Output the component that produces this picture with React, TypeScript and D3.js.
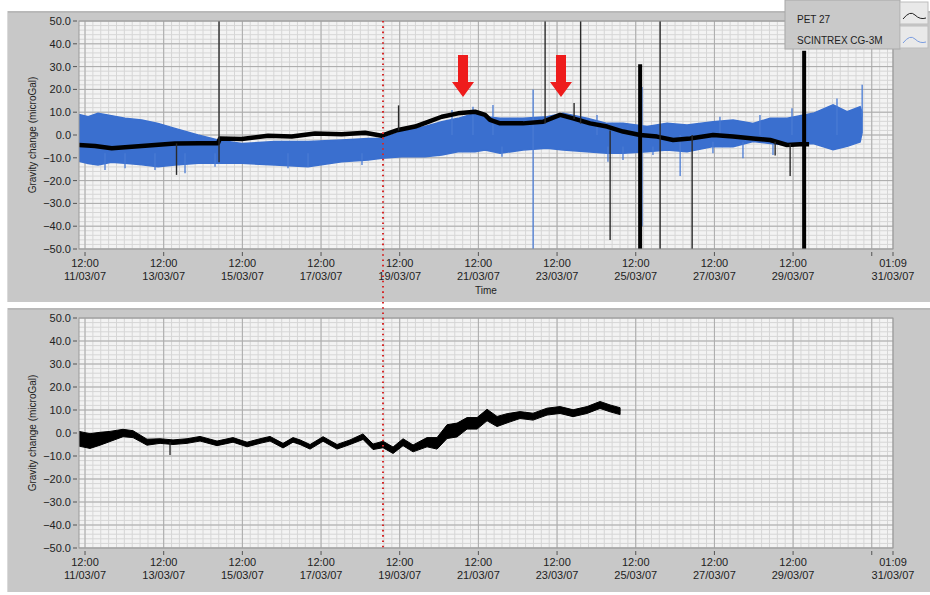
import React from "react";
import * as d3 from "d3";

// ---------- data (days since 11/03/2007 00:00) ----------
const BASE = Date.UTC(2007, 2, 11);
const toDate = (d: number) => new Date(BASE + d * 86400000);

const yTickValues = [50, 40, 30, 20, 10, 0, -10, -20, -30, -40, -50];
const xTickDays = [0.5, 2.5, 4.5, 6.5, 8.5, 10.5, 12.5, 14.5, 16.5, 18.5, 20.5, 21.04];
const xTickTimes = ["12:00", "12:00", "12:00", "12:00", "12:00", "12:00", "12:00", "12:00", "12:00", "12:00", "", "01:09"];
const xTickDates = ["11/03/07", "13/03/07", "15/03/07", "17/03/07", "19/03/07", "21/03/07", "23/03/07", "25/03/07", "27/03/07", "29/03/07", "", "31/03/07"];

// SCINTREX CG-3M noise envelope (top panel)
const blueDays = [0.347, 0.58, 0.83, 1.17, 1.517, 1.942, 2.356, 2.788, 3.373, 3.881, 4.484, 5.331, 6.17, 7.026, 7.695, 8.043, 8.552, 9.144, 9.569, 9.983, 10.415, 10.67, 11.051, 11.636, 12.246, 12.653, 13.263, 13.771, 14.178, 14.788, 15.297, 15.805, 16.466, 16.975, 17.483, 17.916, 18.348, 19.009, 19.517, 19.873, 20.204, 20.254];
const blueUpper = [9.0, 8.0, 9.5, 8.5, 7.3, 6.6, 5.1, 2.9, 0.0, -2.2, -3.7, -2.9, -2.9, -2.2, -1.5, -1.5, 1.5, 3.7, 5.8, 7.3, 9.5, 8.0, 7.3, 7.3, 8.0, 9.5, 7.3, 5.1, 5.1, 3.7, 5.1, 4.4, 5.8, 6.6, 5.1, 7.3, 7.3, 9.5, 13.2, 10.2, 12.4, 10.0];
const blueLower = [-11.5, -12.5, -13.2, -12.0, -12.4, -13.0, -13.9, -13.2, -12.4, -12.4, -12.4, -13.2, -13.9, -11.7, -11.0, -10.2, -9.5, -9.5, -8.8, -7.3, -7.3, -6.6, -8.0, -6.6, -5.8, -6.6, -7.3, -8.0, -8.0, -7.3, -6.6, -7.3, -5.1, -5.1, -2.9, -3.7, -4.4, -3.7, -6.5, -5.0, -3.0, 1.0];

// PET 27 (top panel)
const petTopDays = [0.347, 0.754, 1.179, 1.942, 2.788, 3.424, 3.881, 3.932, 4.484, 5.153, 5.755, 6.348, 7.026, 7.619, 8.043, 8.458, 8.89, 9.221, 9.569, 9.983, 10.415, 10.67, 10.797, 11.051, 11.636, 12.144, 12.577, 12.907, 13.339, 13.771, 14.178, 14.61, 15.043, 15.45, 15.882, 16.466, 16.975, 17.483, 17.916, 18.348, 18.678, 18.907];
const petTopValues = [-4.4, -4.8, -5.8, -4.8, -3.7, -3.6, -3.6, -1.5, -1.8, -0.3, -0.7, 0.7, 0.3, 1.0, -0.3, 2.2, 3.7, 5.8, 8.0, 9.5, 10.2, 8.8, 6.6, 5.1, 5.1, 5.8, 8.8, 7.3, 5.1, 3.7, 1.5, 0.0, -0.7, -2.2, -1.5, 0.0, -0.7, -1.5, -2.2, -4.4, -4.1, -4.1];

// PET 27 (bottom panel)
const petBottomDays = [0.347, 0.627, 0.881, 1.136, 1.466, 1.72, 2.076, 2.407, 2.737, 3.093, 3.424, 3.856, 4.263, 4.619, 4.949, 5.203, 5.534, 5.788, 5.966, 6.221, 6.551, 6.907, 7.237, 7.568, 7.822, 8.076, 8.331, 8.585, 8.839, 9.195, 9.449, 9.704, 9.958, 10.212, 10.466, 10.72, 10.975, 11.229, 11.559, 11.89, 12.246, 12.577, 12.907, 13.263, 13.593, 13.848, 14.102];
const petBottomValues = [-2.5, -3.5, -2.5, -1.5, 0.0, -0.5, -4.0, -3.5, -4.0, -3.5, -2.5, -4.5, -3.0, -5.0, -3.5, -2.5, -5.5, -3.0, -4.0, -6.0, -2.6, -6.0, -4.0, -1.6, -6.0, -5.0, -7.5, -4.0, -6.7, -4.0, -4.5, 0.6, 1.3, 4.2, 4.2, 7.8, 5.0, 6.4, 7.8, 7.1, 9.3, 10.0, 8.6, 10.0, 12.2, 10.7, 9.5];
const petBottomSpread = [3.2, 3.2, 2.8, 2.2, 1.6, 1.5, 1.3, 1.0, 1.0, 1.0, 1.0, 1.0, 1.0, 1.0, 1.0, 1.0, 1.0, 1.0, 1.0, 1.0, 1.0, 1.0, 1.0, 1.2, 1.2, 1.4, 1.4, 1.5, 1.5, 2.0, 2.5, 3.0, 3.0, 2.5, 2.5, 2.5, 2.2, 2.0, 1.5, 1.5, 1.5, 1.5, 1.5, 1.5, 1.5, 1.5, 1.5];

// spikes (top panel)
const thinSpikeDays = [2.826, 3.907, 8.471, 12.196, 12.933, 13.099, 13.849, 15.12, 15.934, 18.044, 18.425];
const thinSpikeFrom = [-3.7, 50, 2, 50, 7, 50, 2, 50, 0, -3, -4];
const thinSpikeTo = [-17.5, -12, 13, 5, 14, 5, -46, -50, -50, -9, -18];
const thickSpikeDays = [14.612, 18.781];
const thickSpikeFrom = [31, 37];
const thickSpikeTo = [-50, -50];
const blueSpikeDays = [11.891, 14.66, 15.629, 20.256, 1.008, 1.517, 2.279, 3.042, 3.805, 5.66, 6.169, 7.541, 11.1, 13.794, 14.176, 14.938, 16.463, 17.226, 17.989, 9.829, 10.363, 10.871, 13.515, 16.641, 17.658, 18.472, 19.616];
const blueSpikeFrom = [20, 21, 0, 8, -8, -8, -8, -8, -8, -8, -8, -8, -5, -5, -5, -5, -3, -3, -3, 0, 0, 0, 0, 0, 0, 0, 0];
const blueSpikeTo = [-50, -40, -18, 22, -15.4, -14.6, -15.4, -16.8, -13.9, -14.6, -13.9, -13.2, -9.5, -11.7, -11.0, -8.8, -8.0, -10.2, -8.8, 11.0, 12.4, 13.2, 8.8, 8.0, 8.8, 11.7, 16.0];
const bottomSpikeDays = [2.661];
const bottomSpikeFrom = [-4];
const bottomSpikeTo = [-9.6];

// annotations
const arrowDays = [10.109, 12.6];
const arrowTopValue = 35.1;
const arrowHeadValue = 23.3;
const arrowTipValue = 16.7;
const markerDay = 8.075;

// ---------- layout ----------
const W = 930;
const H = 595;
const PL = 79;
const PR = 893;
const FONT = "'Liberation Sans', Arial, sans-serif";
const BLUE = "#3a6fcf";

const x = d3.scaleTime().domain([toDate(0.347), toDate(21.04)]).range([PL, PR]);

function Panel({ top, bottom, panelTop, panelBottom, id, showTime, children }: any) {
  const y = d3.scaleLinear().domain([-50, 50]).range([bottom, top]);
  const minorX = d3.range(0.5, 21.04, 0.2);
  const minorY = d3.range(-50, 50.01, 2);
  return (
    <g>
      <rect x={7} y={panelTop} width={W - 7} height={panelBottom - panelTop} fill="#c8c8c8" />
      <line x1={7} x2={W} y1={panelTop + 1} y2={panelTop + 1} stroke="#a9a9a9" />
      <line x1={7.5} x2={7.5} y1={panelTop} y2={panelBottom} stroke="#dadada" />
      <rect x={PL} y={top} width={PR - PL} height={bottom - top} fill="#f3f3f3" />
      {minorX.map((d, i) => (
        <line key={"mx" + i} x1={x(toDate(d))} x2={x(toDate(d))} y1={top} y2={bottom} stroke="#d6d6d6" strokeWidth={1} />
      ))}
      {minorY.map((v, i) => (
        <line key={"my" + i} x1={PL} x2={PR} y1={y(v)} y2={y(v)} stroke="#d6d6d6" strokeWidth={1} />
      ))}
      {xTickDays.map((d, i) => (
        <line key={"Mx" + i} x1={x(toDate(d))} x2={x(toDate(d))} y1={top} y2={bottom} stroke="#ababab" strokeWidth={1} />
      ))}
      {yTickValues.map((v, i) => (
        <line key={"My" + i} x1={PL} x2={PR} y1={y(v)} y2={y(v)} stroke="#ababab" strokeWidth={1} />
      ))}
      <defs>
        <clipPath id={id}>
          <rect x={PL} y={top} width={PR - PL} height={bottom - top + 1} />
        </clipPath>
      </defs>
      <g clipPath={`url(#${id})`}>{children(y)}</g>
      <rect x={PL} y={top} width={PR - PL} height={bottom - top} fill="none" stroke="#9a9a9a" />
      {yTickValues.map((v, i) => (
        <g key={"yt" + i}>
          <line x1={PL - 6} x2={PL - 2} y1={y(v)} y2={y(v)} stroke="#555" />
          <text x={PL - 8} y={y(v) + 4} textAnchor="end" fontSize={11} fontFamily={FONT} fill="#222">
            {d3.format(".1f")(v)}
          </text>
        </g>
      ))}
      {xTickDays.map((d, i) => (
        <g key={"xt" + i}>
          <line x1={x(toDate(d))} x2={x(toDate(d))} y1={bottom + 3} y2={bottom + 7} stroke="#555" />
          <text x={x(toDate(d))} y={bottom + 18} textAnchor="middle" fontSize={11} fontFamily={FONT} fill="#222">
            {xTickTimes[i]}
          </text>
          <text x={x(toDate(d))} y={bottom + 31} textAnchor="middle" fontSize={11} fontFamily={FONT} fill="#222">
            {xTickDates[i]}
          </text>
        </g>
      ))}
      {showTime && (
        <text x={(PL + PR) / 2} y={bottom + 45} textAnchor="middle" fontSize={10} fontFamily={FONT} fill="#222">
          Time
        </text>
      )}
      <text
        transform={`translate(${36},${(top + bottom) / 2}) rotate(-90)`}
        textAnchor="middle"
        fontSize={10}
        fontFamily={FONT}
        fill="#222"
      >
        Gravity change (microGal)
      </text>
    </g>
  );
}

export default function App() {
  const topChildren = (y: any) => {
    const blueArea = d3
      .area<number>()
      .x((i) => x(toDate(blueDays[i])))
      .y0((i) => y(blueLower[i]))
      .y1((i) => y(blueUpper[i]));
    const petLine = d3
      .line<number>()
      .x((i) => x(toDate(petTopDays[i])))
      .y((i) => y(petTopValues[i]));
    return (
      <g>
        <path d={blueArea(d3.range(blueDays.length)) || ""} fill={BLUE} stroke={BLUE} strokeWidth={1.5} />
        {blueSpikeDays.map((d, i) => (
          <line key={"bs" + i} x1={x(toDate(d))} x2={x(toDate(d))} y1={y(blueSpikeFrom[i])} y2={y(blueSpikeTo[i])} stroke="#4a7bd4" strokeWidth={1.3} />
        ))}
        <path d={petLine(d3.range(petTopDays.length)) || ""} fill="none" stroke="#000" strokeWidth={4.5} strokeLinejoin="round" />
        {thinSpikeDays.map((d, i) => (
          <line key={"ts" + i} x1={x(toDate(d))} x2={x(toDate(d))} y1={y(thinSpikeFrom[i])} y2={y(thinSpikeTo[i])} stroke="#2a2a2a" strokeWidth={1.4} />
        ))}
        {thickSpikeDays.map((d, i) => (
          <line key={"ks" + i} x1={x(toDate(d))} x2={x(toDate(d))} y1={y(thickSpikeFrom[i])} y2={y(thickSpikeTo[i])} stroke="#000" strokeWidth={4} />
        ))}
      </g>
    );
  };

  const bottomChildren = (y: any) => {
    const band = d3
      .area<number>()
      .x((i) => x(toDate(petBottomDays[i])))
      .y0((i) => y(petBottomValues[i] - petBottomSpread[i]))
      .y1((i) => y(petBottomValues[i] + petBottomSpread[i]));
    const line = d3
      .line<number>()
      .x((i) => x(toDate(petBottomDays[i])))
      .y((i) => y(petBottomValues[i]));
    return (
      <g>
        <path d={band(d3.range(petBottomDays.length)) || ""} fill="#000" stroke="#000" strokeWidth={1} />
        <path d={line(d3.range(petBottomDays.length)) || ""} fill="none" stroke="#000" strokeWidth={3} strokeLinejoin="round" />
        {bottomSpikeDays.map((d, i) => (
          <line key={"bt" + i} x1={x(toDate(d))} x2={x(toDate(d))} y1={y(bottomSpikeFrom[i])} y2={y(bottomSpikeTo[i])} stroke="#222" strokeWidth={1.3} />
        ))}
      </g>
    );
  };

  const yTop = d3.scaleLinear().domain([-50, 50]).range([249, 21]);
  const mx = x(toDate(markerDay));

  return (
    <svg width={W} height={H} style={{ position: "absolute", left: 0, top: 0, background: "#fff" }}>
      <rect x={0} y={0} width={W} height={H} fill="#fff" />
      <Panel top={21} bottom={249} panelTop={11} panelBottom={302} id="clipTop" showTime={true}>
        {topChildren}
      </Panel>
      <Panel top={318} bottom={548} panelTop={308} panelBottom={592} id="clipBottom" showTime={false}>
        {bottomChildren}
      </Panel>

      {/* red dotted marker */}
      <line x1={mx} x2={mx} y1={21} y2={548} stroke="#d42a2a" strokeWidth={2} strokeDasharray="1.6,3.7" />

      {/* red arrows */}
      {arrowDays.map((d, i) => {
        const cx = x(toDate(d));
        const t = yTop(arrowTopValue);
        const h = yTop(arrowHeadValue);
        const tip = yTop(arrowTipValue);
        const p = `M${cx - 5},${t} L${cx + 5},${t} L${cx + 5},${h} L${cx + 11},${h} L${cx},${tip} L${cx - 11},${h} L${cx - 5},${h} Z`;
        return <path key={"ar" + i} d={p} fill="#ee1c1c" />;
      })}

      {/* legend */}
      <rect x={785} y={0} width={115} height={49} fill="#c9c9c9" stroke="#a8a8a8" />
      <text x={797} y={23} fontSize={10} fontFamily={FONT} fill="#222">PET 27</text>
      <text x={797} y={44} fontSize={10} fontFamily={FONT} fill="#222">SCINTREX  CG-3M</text>
      <rect x={900} y={2} width={28} height={22} fill="#e9e9e9" stroke="#bdbdbd" />
      <rect x={900} y={26} width={28} height={22} fill="#e9e9e9" stroke="#bdbdbd" />
      <path d="M903,19 Q910,10 915,15 T926,18" fill="none" stroke="#222" strokeWidth={1} />
      <path d="M903,43 Q910,34 915,39 T926,42" fill="none" stroke="#7b9de0" strokeWidth={1} />
    </svg>
  );
}
